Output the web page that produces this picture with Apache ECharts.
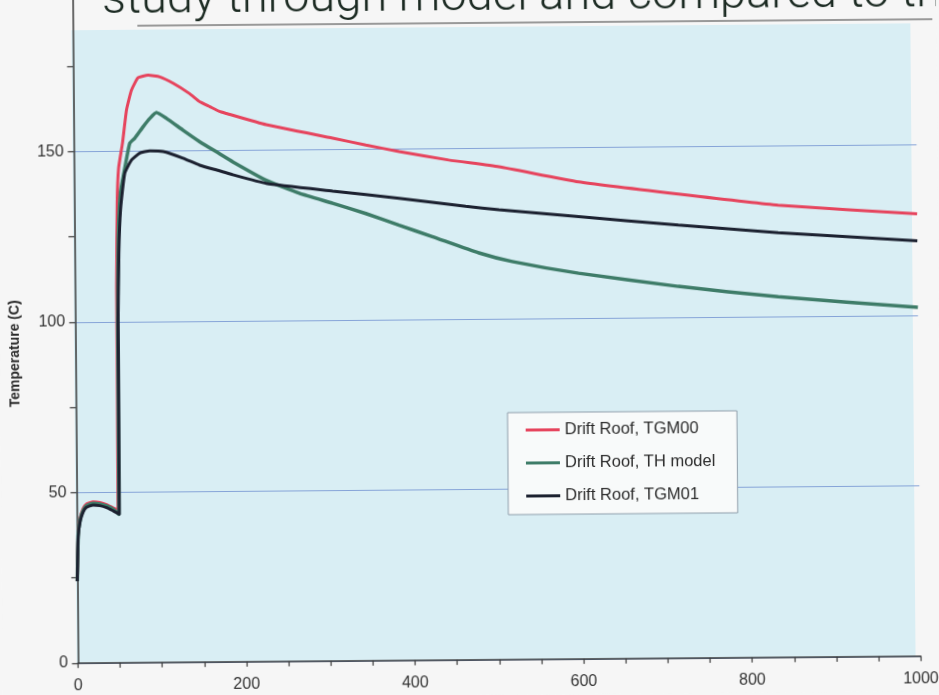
<!DOCTYPE html>
<html><head><meta charset="utf-8">
<script src="https://cdn.jsdelivr.net/npm/echarts@6/dist/echarts.min.js"></script>
<style>
html,body{margin:0;padding:0;background:#f6f6f6;overflow:hidden;width:939px;height:695px}
#c{position:absolute;left:0;top:-30px;width:939px;height:725px;transform:rotate(-0.47deg);transform-origin:469.5px 377.5px}
</style>
</head><body><div id="c"></div>
<script>
// ---- data ----
const seriesNames = ['Drift Roof, TGM00', 'Drift Roof, TH model', 'Drift Roof, TGM01'];
const yAxisTitle = 'Temperature (C)';
const noteText = 'study through model and compared to th';
const xTickLabels = [0, 200, 400, 600, 800, 1000];
const yTickLabels = [0, 50, 100, 150];

const tgm00 = [[0,24],[1.5,38],[4,42.5],[7.5,45.2],[11.5,46.6],[19.5,47.2],[27.5,47],[35.5,46.4],[43.5,45.4],[49,44.8],[49.5,110],[51,135],[53,145],[57.9,152.4],[63,162.1],[69.1,167.9],[77.1,171.5],[88.9,172.2],[102.7,171.7],[118.4,169.8],[138,166.7],[150,164.3],[162,162.8],[173.3,161.4],[181.3,160.8],[228.5,157.4],[307.2,153.3],[346.7,151.2],[386,149.2],[444.9,146.6],[504.2,144.5],[598.7,139.9],[716.9,136.1],[835.2,132.6],[1000,129.7]];

const thModel = [[0,24],[1.5,37.5],[4,42],[7.5,44.7],[11.5,46.1],[19.5,46.8],[27.5,46.6],[35.5,46],[43.5,45],[50,43.5],[50.5,100],[52,125],[55,138],[60.4,145],[66.5,152.3],[72.6,153.8],[82.5,157.1],[90.5,159.5],[98.4,161.2],[110.3,159.5],[129.8,156],[149.4,152.6],[172.9,149],[188.6,146.6],[228,141.1],[267.2,137.2],[306.5,134.2],[346,131.1],[385.2,127.6],[424.6,124.2],[479.7,119.3],[519,116.7],[597.8,113.1],[716,109],[834.3,105.7],[1000,102.3]];

const tgm01 = [[0,24],[1.5,37],[4,41.5],[7.5,44.2],[11.5,45.6],[19.5,46.3],[27.5,46.1],[35.5,45.5],[43.5,44.5],[50.5,43.6],[51,100],[52.5,120],[55,133],[60.3,143.5],[68.5,147.4],[78.3,149.4],[90.2,150],[106,149.8],[129.5,147.8],[149.2,145.7],[172.8,144],[188.5,142.8],[228,140.2],[306.7,137.8],[385.5,135.5],[464.4,133],[503.8,131.9],[598.3,129.7],[716.6,127],[835,124.5],[1000,121.8]];

const seriesData = [tgm00, thModel, tgm01];
const seriesColors = ['#e6445d', '#3e7c68', '#1c2130'];
const seriesWidths = [3, 3.5, 3];

// ---- chart ----
const OFF = 30; // container shifted up by this many px
const chart = echarts.init(document.getElementById('c'), null, {renderer: 'canvas'});
const axisCol = '#3a3a3a';
const font = 'Liberation Sans, Arial, sans-serif';

chart.setOption({
  backgroundColor: '#f6f6f6',
  animation: false,
  grid: {left: 75.4, right: 18.6, top: OFF - 22.2, bottom: 35.2, containLabel: false},
  xAxis: {
    type: 'value', min: xTickLabels[0], max: xTickLabels[xTickLabels.length - 1], interval: 200,
    axisLine: {show: true, onZero: false, lineStyle: {color: axisCol, width: 1.5}},
    axisTick: {show: true, length: 5, lineStyle: {color: axisCol, width: 1.2}},
    minorTick: {show: true, splitNumber: 4, length: 5, lineStyle: {color: axisCol, width: 1.2}},
    axisLabel: {margin: 15, fontSize: 16, color: '#333', fontFamily: font,
      formatter: v => xTickLabels.includes(v) ? String(v) : ''},
    splitLine: {show: false}
  },
  yAxis: {
    type: 'value', min: 0, max: 200, interval: 50,
    axisLine: {show: true, lineStyle: {color: axisCol, width: 1.5}},
    axisTick: {show: true, length: 6, lineStyle: {color: axisCol, width: 1.2}},
    minorTick: {show: true, splitNumber: 2, length: 6, lineStyle: {color: axisCol, width: 1.2}},
    axisLabel: {margin: 10, fontSize: 16, color: '#333', fontFamily: font,
      formatter: v => yTickLabels.includes(v) ? String(v) : ''},
    splitLine: {show: true, lineStyle: {color: '#86a4d8', width: 1.2}}
  },
  legend: {
    data: seriesNames, orient: 'vertical', left: 507, top: OFF + 413,
    icon: 'rect', itemWidth: 34, itemHeight: 3, itemGap: 14,
    padding: [8, 22, 9, 18],
    backgroundColor: '#f8fafa', borderColor: '#8f9eab', borderWidth: 1, borderRadius: 0,
    textStyle: {fontSize: 16.5, color: '#2b2b2b', fontFamily: font, lineHeight: 19}
  },
  graphic: [
    {type: 'rect', z: -10, shape: {x: 74, y: OFF + 27, width: 839, height: 633}, style: {fill: '#d9eef4'}},
    {type: 'line', z: -5, shape: {x1: 140, y1: OFF + 23, x2: 935, y2: OFF + 23}, style: {stroke: '#7a7a7a', lineWidth: 1.5}},
    {type: 'text', x: 15, y: OFF + 350, rotation: Math.PI / 2,
      style: {text: yAxisTitle, fill: '#2a2a2a', font: 'bold 14px ' + font, align: 'center', verticalAlign: 'middle'}},
    {type: 'text', x: 105, y: OFF + 22,
      style: {text: noteText, fill: '#1b2a22', font: '300 47px Roboto, ' + font, align: 'left', verticalAlign: 'bottom'}}
  ],
  series: seriesNames.map((name, i) => ({
    name, type: 'line', data: seriesData[i], symbol: 'none', smooth: 0.15,
    lineStyle: {color: seriesColors[i], width: seriesWidths[i]},
    itemStyle: {color: seriesColors[i]}
  }))
});
</script>
</body></html>
